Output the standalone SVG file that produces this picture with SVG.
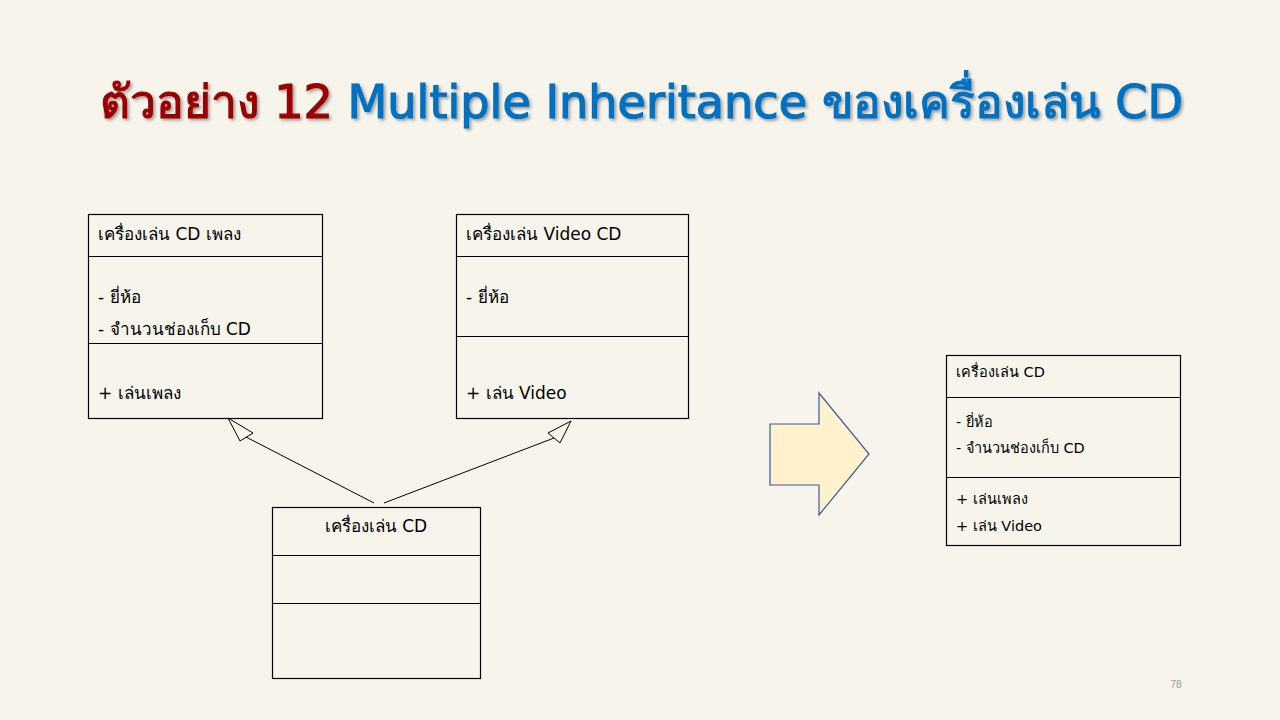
<svg xmlns="http://www.w3.org/2000/svg" width="1280" height="720" viewBox="0 0 1280 720">
<defs>
<style>
.bx{fill:none;stroke:#000;stroke-width:1.2}
.dv{stroke:#000;stroke-width:1.2}
.t{font-family:Tahoma,"DejaVu Sans","Noto Sans",sans-serif;font-size:17px;fill:#000}
.s{font-family:Tahoma,"DejaVu Sans","Noto Sans",sans-serif;font-size:14.5px;fill:#000}
.ln{stroke:#000;stroke-width:1;fill:none}
.hd{fill:#F7F4EC;stroke:#000;stroke-width:1}
</style>
<filter id="sh" x="-5%" y="-20%" width="110%" height="140%">
<feDropShadow dx="2" dy="2" stdDeviation="1.5" flood-color="#000" flood-opacity="0.35"/>
</filter>
</defs>
<rect width="1280" height="720" fill="#F7F4EC"/>
<text x="100" y="118" textLength="1083" lengthAdjust="spacingAndGlyphs" filter="url(#sh)" style="font-family:Tahoma,'DejaVu Sans','Noto Sans',sans-serif;font-size:46px;font-weight:normal;stroke-width:1.2"><tspan fill="#990000" stroke="#990000">ตัวอย่าง 12 </tspan><tspan fill="#0070C0" stroke="#0070C0">Multiple Inheritance ของเครื่องเล่น CD</tspan></text>

<g id="connectors">
<line class="ln" x1="374" y1="503" x2="246" y2="437"/>
<polygon class="hd" points="228,418 240,441 253,433"/>
<line class="ln" x1="384" y1="503" x2="554" y2="438"/>
<polygon class="hd" points="571,421 560,443 548,433"/>
</g>

<g id="music-cd">
<rect class="bx" x="88.5" y="214.5" width="234" height="204"/>
<line class="dv" x1="88.5" y1="256.5" x2="322.5" y2="256.5"/>
<line class="dv" x1="88.5" y1="343.5" x2="322.5" y2="343.5"/>
<text class="t" x="98" y="240">เครื่องเล่น CD เพลง</text>
<text class="t" x="98" y="303">- ยี่ห้อ</text>
<text class="t" x="98" y="335">- จำนวนช่องเก็บ CD</text>
<text class="t" x="98" y="399">+ เล่นเพลง</text>
</g>

<g id="video-cd">
<rect class="bx" x="456.5" y="214.5" width="232" height="204"/>
<line class="dv" x1="456.5" y1="256.5" x2="688.5" y2="256.5"/>
<line class="dv" x1="456.5" y1="336.5" x2="688.5" y2="336.5"/>
<text class="t" x="466" y="240">เครื่องเล่น Video CD</text>
<text class="t" x="466" y="303">- ยี่ห้อ</text>
<text class="t" x="466" y="399">+ เล่น Video</text>
</g>

<g id="cd-player">
<rect class="bx" x="272.5" y="507.5" width="208" height="171"/>
<line class="dv" x1="272.5" y1="555.5" x2="480.5" y2="555.5"/>
<line class="dv" x1="272.5" y1="603.5" x2="480.5" y2="603.5"/>
<text class="t" x="376" y="532" text-anchor="middle">เครื่องเล่น CD</text>
</g>

<g id="block-arrow">
<polygon points="770,424 819,424 819,393 869,454 819,515 819,485 770,485" fill="#FFF2CC" stroke="#3A5A9A" stroke-width="1.2"/>
</g>

<g id="merged-cd">
<rect class="bx" x="946.5" y="355.5" width="234" height="190"/>
<line class="dv" x1="946.5" y1="397.5" x2="1180.5" y2="397.5"/>
<line class="dv" x1="946.5" y1="477.5" x2="1180.5" y2="477.5"/>
<text class="s" x="956" y="377">เครื่องเล่น CD</text>
<text class="s" x="956" y="427">- ยี่ห้อ</text>
<text class="s" x="956" y="453">- จำนวนช่องเก็บ CD</text>
<text class="s" x="956" y="504">+ เล่นเพลง</text>
<text class="s" x="956" y="531">+ เล่น Video</text>
</g>

<text x="1176" y="688" text-anchor="middle" style="font-family:'Liberation Sans',sans-serif;font-size:10px;fill:#999">78</text>
</svg>
